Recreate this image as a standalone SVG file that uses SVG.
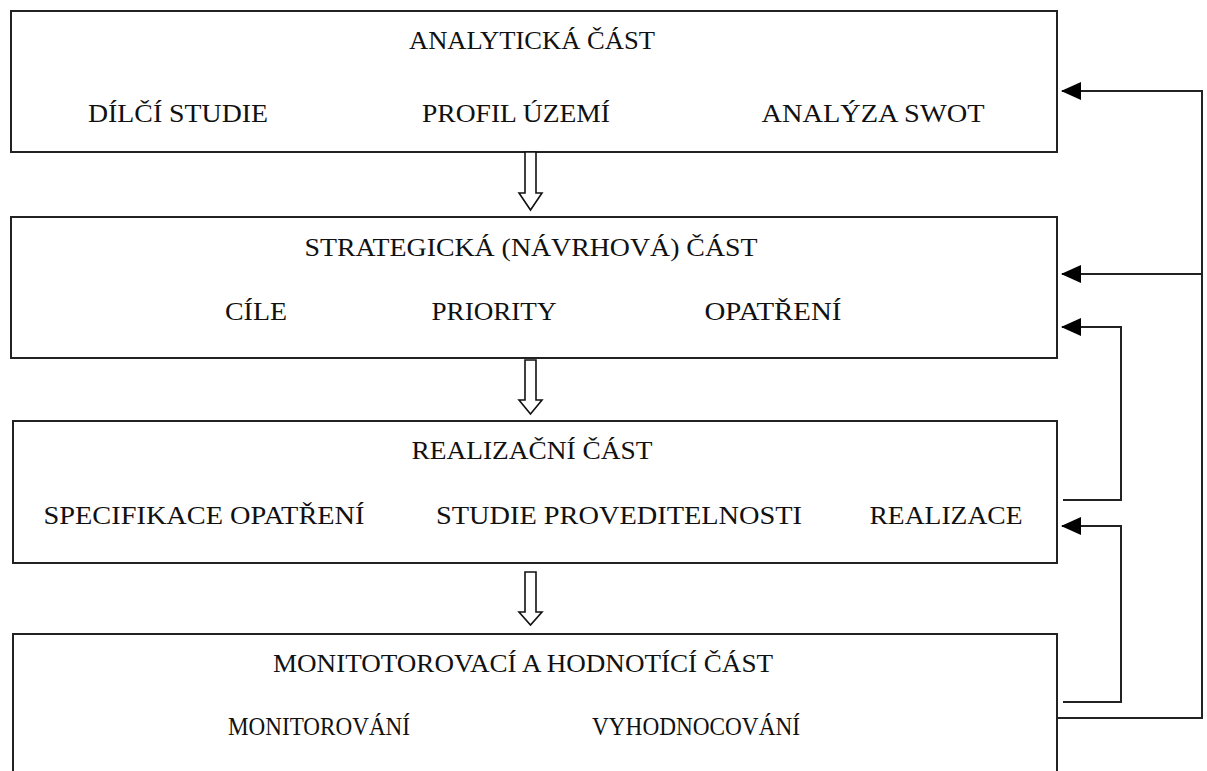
<svg xmlns="http://www.w3.org/2000/svg" width="1207" height="771" viewBox="0 0 1207 771">
<style>
.box{fill:#fff;stroke:#222;stroke-width:2}
.t{font-family:"Liberation Serif","DejaVu Serif",serif;font-size:25px;fill:#111;text-anchor:middle}
.ln{fill:none;stroke:#222;stroke-width:2}
.ha{fill:#fff;stroke:#111;stroke-width:1.6;stroke-linejoin:miter}
</style>
<defs>
<marker id="ah" viewBox="0 0 20 18" refX="19" refY="9" markerWidth="20" markerHeight="18" markerUnits="userSpaceOnUse" orient="auto">
<path d="M0,0 L20,9 L0,18 Z" fill="#000"/>
</marker>
</defs>
<rect width="1207" height="771" fill="#fff"/>
<g id="analyticka">
<rect class="box" x="11" y="11" width="1046" height="141"/>
<text class="t" x="532" y="49" textLength="246" lengthAdjust="spacingAndGlyphs">ANALYTICKÁ ČÁST</text>
<text class="t" x="178" y="122" textLength="180" lengthAdjust="spacingAndGlyphs">DÍLČÍ STUDIE</text>
<text class="t" x="516" y="122" textLength="188" lengthAdjust="spacingAndGlyphs">PROFIL ÚZEMÍ</text>
<text class="t" x="873" y="122" textLength="223" lengthAdjust="spacingAndGlyphs">ANALÝZA SWOT</text>
</g>
<g id="strategicka">
<rect class="box" x="11" y="217" width="1046" height="141"/>
<text class="t" x="531" y="256" textLength="453" lengthAdjust="spacingAndGlyphs">STRATEGICKÁ (NÁVRHOVÁ) ČÁST</text>
<text class="t" x="256" y="320" textLength="62" lengthAdjust="spacingAndGlyphs">CÍLE</text>
<text class="t" x="494" y="320" textLength="125" lengthAdjust="spacingAndGlyphs">PRIORITY</text>
<text class="t" x="773" y="320" textLength="137" lengthAdjust="spacingAndGlyphs">OPATŘENÍ</text>
</g>
<g id="realizacni">
<rect class="box" x="13" y="421" width="1044" height="142"/>
<text class="t" x="532" y="459" textLength="241" lengthAdjust="spacingAndGlyphs">REALIZAČNÍ ČÁST</text>
<text class="t" x="204" y="524" textLength="321" lengthAdjust="spacingAndGlyphs">SPECIFIKACE OPATŘENÍ</text>
<text class="t" x="619" y="524" textLength="366" lengthAdjust="spacingAndGlyphs">STUDIE PROVEDITELNOSTI</text>
<text class="t" x="946" y="524" textLength="153" lengthAdjust="spacingAndGlyphs">REALIZACE</text>
</g>
<g id="monitorovaci">
<rect class="box" x="13" y="634" width="1044" height="160"/>
<text class="t" x="523" y="672" textLength="500" lengthAdjust="spacingAndGlyphs">MONITOTOROVACÍ A HODNOTÍCÍ ČÁST</text>
<text class="t" x="319" y="735" textLength="182" lengthAdjust="spacingAndGlyphs">MONITOROVÁNÍ</text>
<text class="t" x="696" y="735" textLength="208" lengthAdjust="spacingAndGlyphs">VYHODNOCOVÁNÍ</text>
</g>
<g id="connectors">
<polygon class="ha" points="525,152 536,152 536,193 542,193 530.5,210 519,193 525,193"/>
<polygon class="ha" points="525,360 536,360 536,400 542,400 530.5,414 519,400 525,400"/>
<polygon class="ha" points="525,572 536,572 536,612 542,612 530.5,625 519,612 525,612"/>
<path class="ln" d="M1057,718 H1202 V91 H1062" marker-end="url(#ah)"/>
<path class="ln" d="M1202,274 H1062" marker-end="url(#ah)"/>
<path class="ln" d="M1063,500 H1121 V327 H1062" marker-end="url(#ah)"/>
<path class="ln" d="M1063,702 H1121 V526 H1062" marker-end="url(#ah)"/>
</g>
</svg>
